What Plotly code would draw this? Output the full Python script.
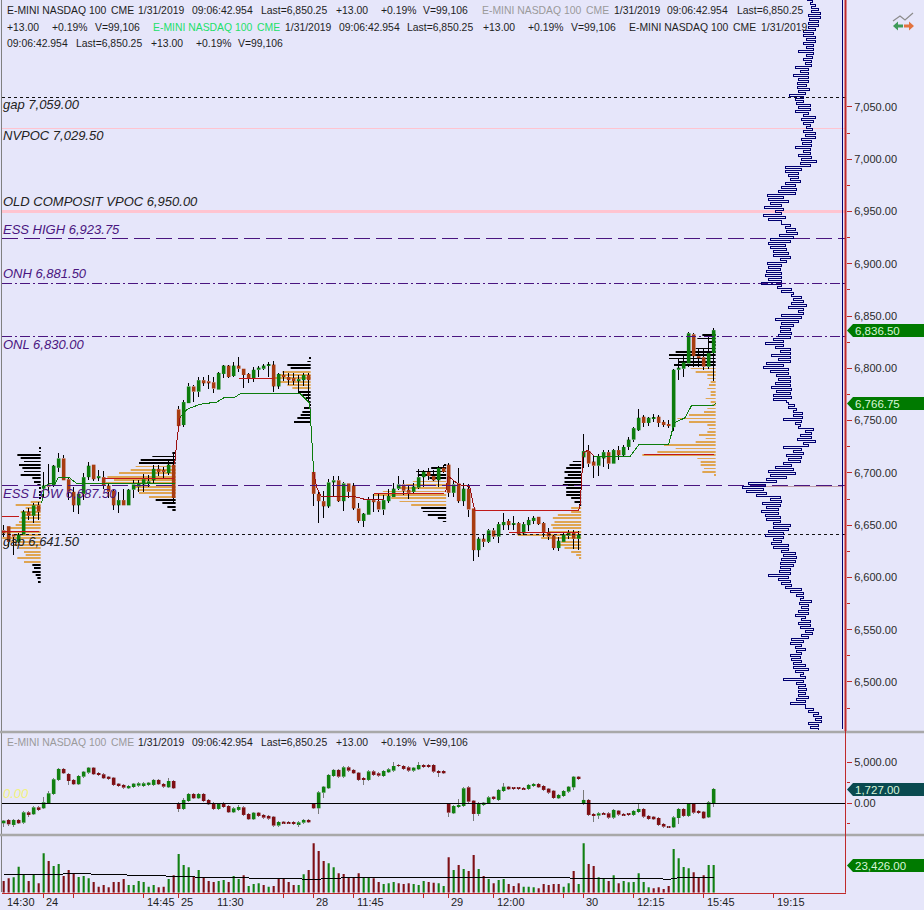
import plotly.graph_objects as go

W, H = 924, 910
BG = "#E6E6FA"
GREEN = "#0C7C0C"
RUST = "#A83C10"
MAROON = "#7E0F14"
OSC_GREEN = "#118011"
RED_AXIS = "#C02A2A"
PURPLE = "#4A1580"
PINK = "#FFC4D0"
ORANGE = "#DFA552"
NAVY = "#000070"

# ---------- price candles ----------
price_open = [6644,6648,6640,6633,6640,6662,6658,6668,6684,6688,
6687,6704,6713,6693,6681,6668,6679,6695,6707,6694,
6695,6687,6682,6668,6673,6668,6683,6686,6688,6689,
6692,6703,6702,6699,6707,6760,6745,6766,6782,6777,
6788,6787,6786,6779,6794,6802,6792,6802,6799,6794,
6790,6798,6799,6802,6803,6782,6793,6791,6790,6787,
6788,6793,6700,6679,6672,6667,6690,6692,6672,6689,
6687,6665,6653,6659,6673,6672,6664,6672,6676,6684,
6688,6683,6681,6685,6695,6700,6696,6692,6704,6707,
6680,6689,6672,6684,6665,6625,6636,6633,6644,6638,
6649,6653,6650,6651,6641,6649,6653,6657,6651,6642,
6639,6627,6633,6639,6642,6636,6714,6720,6710,6706,
6713,6719,6708,6721,6716,6724,6731,6740,6753,6747,
6751,6753,6748,6746,6743,6798,6799,6804,6832,6811,
6810,6801,6814]
price_close = [6641,6633,6638,6640,6662,6658,6668,6662,6687,6686,
6706,6713,6692,6681,6668,6679,6695,6706,6693,6696,
6687,6681,6668,6673,6668,6683,6688,6689,6693,6691,
6703,6700,6700,6707,6675,6744,6767,6782,6777,6788,
6785,6785,6780,6795,6802,6791,6802,6799,6793,6790,
6798,6800,6802,6803,6782,6794,6791,6788,6787,6789,
6793,6788,6679,6672,6667,6690,6692,6672,6689,6681,
6665,6653,6660,6673,6671,6664,6673,6677,6684,6688,
6682,6680,6686,6695,6700,6696,6692,6704,6700,6680,
6688,6672,6684,6664,6625,6636,6633,6644,6638,6650,
6652,6649,6651,6640,6650,6654,6656,6650,6642,6638,
6627,6634,6640,6642,6636,6640,6720,6708,6706,6715,
6719,6708,6721,6716,6724,6731,6742,6752,6747,6752,
6752,6747,6745,6744,6798,6800,6805,6833,6811,6809,
6801,6814,6836]
price_high = [6649,6648,6640,6641,6664,6665,6670,6671,6700,6708,
6707,6718,6716,6694,6686,6681,6699,6710,6707,6702,
6701,6689,6684,6681,6684,6684,6692,6692,6698,6697,
6707,6707,6705,6711,6718,6763,6769,6785,6783,6791,
6791,6793,6791,6796,6803,6803,6805,6810,6799,6795,
6801,6802,6804,6805,6806,6795,6797,6795,6795,6793,
6795,6795,6703,6683,6682,6693,6696,6696,6690,6689,
6689,6670,6661,6676,6679,6679,6678,6684,6689,6696,
6692,6687,6689,6703,6702,6704,6702,6706,6707,6709,
6692,6704,6689,6688,6665,6638,6640,6645,6646,6652,
6661,6655,6658,6652,6652,6657,6658,6657,6652,6646,
6640,6638,6641,6644,6644,6643,6736,6726,6715,6717,
6721,6721,6722,6725,6726,6734,6743,6760,6755,6753,
6756,6755,6750,6750,6799,6809,6811,6834,6833,6819,
6819,6831,6838]
price_low = [6638,6628,6620,6632,6640,6654,6651,6654,6676,6680,
6686,6700,6692,6673,6662,6660,6673,6692,6691,6691,
6684,6675,6664,6661,6668,6668,6675,6681,6681,6686,
6689,6696,6694,6697,6670,6738,6743,6766,6767,6772,
6782,6780,6776,6779,6790,6790,6791,6796,6781,6785,
6786,6791,6798,6791,6777,6780,6787,6783,6783,6775,
6782,6766,6667,6651,6656,6665,6676,6671,6663,6675,
6664,6651,6647,6659,6662,6662,6659,6670,6676,6683,
6678,6674,6679,6684,6686,6692,6691,6686,6699,6676,
6676,6670,6667,6657,6615,6618,6628,6632,6636,6632,
6644,6644,6644,6640,6640,6643,6650,6649,6638,6635,
6625,6624,6633,6636,6626,6625,6704,6705,6694,6696,
6705,6703,6708,6711,6715,6721,6729,6739,6743,6744,
6748,6743,6743,6742,6739,6788,6791,6801,6801,6801,
6798,6799,6787]

# ---------- oscillator candles ----------
osc_open = [-2440,-2030,-2640,-2030,-2360,-1100,-1340,-490,-610,0,
1140,2850,4190,3580,2850,2320,3250,3740,4350,3660,
3540,3250,3130,2400,2240,1830,1990,2150,2110,2240,
2240,2850,2360,1950,2720,0,-690,280,1140,610,
1140,410,0,-690,0,-330,-1100,-810,-490,-1300,
-1950,-1140,-1420,-1540,-1630,-2720,-2240,-2320,-2320,-2560,
-2360,-2030,-80,-610,1300,1830,3330,4070,3250,4390,
4070,3740,3050,2850,3900,3660,3330,3780,3980,4670,
4550,4390,3980,4150,4670,4670,4670,3940,3940,-80,
-1220,-410,-330,1950,330,-1300,-200,0,810,410,
1500,2030,1910,1870,1870,1750,2110,2360,2110,1790,
1540,610,890,1420,1950,3250,-80,410,-1300,-1500,
-1220,-1220,-1750,-890,-1300,-1300,-1420,-1060,-690,-1540,
-1630,-1790,-2520,-2850,-2930,-1790,-690,-1540,-80,-930,
-1020,-1710,0]
osc_close = [-2110,-2560,-2030,-2440,-1100,-1420,-490,-810,120,1220,
2930,4190,3660,2720,2320,3330,3860,4350,3540,3500,
3050,2970,2240,2110,1910,2110,2400,2440,2440,2520,
2850,2320,2030,2720,1830,-690,410,1140,610,1140,
280,-120,-690,-80,-450,-1100,-610,-450,-1420,-1950,
-1140,-1540,-1750,-1870,-2720,-2280,-2440,-2440,-2480,-2320,
-2030,-2320,-610,1340,2030,3460,4070,3250,4390,3980,
3660,2850,2850,3900,3460,3370,3940,4150,4550,4550,
4190,3980,4350,4670,4470,4470,3860,3740,3660,-1140,
-330,-200,1830,200,-1300,0,80,730,530,1630,
2030,1710,1790,1750,1710,2240,2360,1950,1630,1300,
650,1020,1500,2030,3250,3010,410,-1420,-1540,-1220,
-1340,-1750,-810,-1380,-1460,-1380,-930,-690,-1630,-1910,
-1950,-2640,-2850,-2930,-1710,-690,-1540,-80,-1140,-1140,
-1830,120,1750]
osc_long_highs = {8:810,9:1540,33:3050,36:690,47:-200,78:5000,83:5080,91:490,100:2450,116:1630,127:-100}
osc_long_lows = {0:-2850,1:-2760,2:-2850,5:-1630,13:2240,14:2200,15:2240,35:-1020,59:-2930,63:-1340,64:610,
                 72:2240,87:3170,89:-1630,94:-2120,95:-1500,114:1600,118:-2240,119:-1950,133:-3050,135:-2500,142:-400}

# ---------- volume ----------
volume = [9870,12130,12970,22000,14950,9870,15510,7900,33280,26790,
22560,24250,14100,19180,16360,13250,14100,12130,9020,5080,
6490,4510,9020,9020,11560,6490,6490,9870,9020,5080,
6490,4510,5080,11560,14660,32710,23410,21430,14100,19180,
12970,9870,9020,9870,10720,9020,14100,11560,14660,5640,
7330,7900,6490,5080,5640,11560,11560,9020,6490,6490,
15510,19180,41740,35250,26790,24820,21430,16360,15790,12970,
12970,16360,12970,12970,12130,9020,7330,7900,9020,7900,
7330,7900,7330,6490,9870,9020,8460,7900,5640,29890,
19180,23410,20020,18330,31870,20020,14100,11560,7900,10720,
11560,7330,5640,7900,5080,5080,4510,3670,7330,6490,
7330,7330,5080,7900,18330,7330,41740,24250,22560,12970,
11560,9870,14660,7900,9870,8740,9020,16360,9020,4510,
3670,4510,3100,5640,36940,29050,21710,20590,17200,12970,
14660,23410,23426]
volume_sides = ("RRGGGRGRGR" "GGRRRGGGRR" "RRRRRGGGGG" "GRRGRGGGRG" "RRRGGRGGRG"
                "GGRGRRRRRG" "GRRRRGGRRR" "RRGGRRGGGR" "RRGGGRRGGR" "GR" "GRRGRGRG"
                "GRRRGGGRRR" "RRGGRGGRRG" "GRGRGGGGGG" "RRRRGGGGRR" "RGG")
vol_avg_bars = [0,10,15,20,30,35,60,62,70,89,92,105,110,115,130,133,135,142]
vol_avg = [15510,15510,16360,15230,14660,13540,11560,11280,12970,12970,13540,13540,12970,12130,12130,11280,12690,12970]

# ---------- composite profile (left and right edge per 4 px price row) ----------
blue_top_price = 7152.3
blue_row_step = 1.913
blue_far = [108,98,93,93,103,100,103,103,118,118,108,118,108,133,108,
118,113,143,128,148,133,136,136,133,160,143,138,133,143,118,123,118,108,118,113,123,120,143,118,133,123,128,
173,173,163,158,173,183,193,226,223,218,236,203,238,223,183,173,168,190,218,223,218,208,208,188,226,223,228,233,223,243,
196,183,153,148,153,163,133,183,203,183,188,188,193,208,233,203,188,213,
193,228,238,218,198,193,203,213,198,208,208,163,163,148,148,178,143,133,113,128,135,118,178,148,168,163,178,203,223,218,228,
283,300,288,258,218,240,228,243,233,228,208,208,223,233,208,213,208,183,178,
183,188,188,190,223,193,183,173,158,138,128,130,123,133,143,123,133,128,113,123,153,158,143,138,158,153,148,148,143,128,178,138,133,133,133,138,158,113,103,88,83,103,98]
blue_near = [90,83,73,68,68,73,73,83,88,83,83,88,88,88,90,
93,93,103,103,103,103,108,100,113,118,118,98,98,103,81,88,98,90,83,81,93,93,98,98,93,80,98,
123,133,133,128,143,138,143,178,163,183,178,183,173,183,158,143,136,148,158,173,168,163,158,168,183,188,183,183,183,183,
153,148,123,118,108,118,118,123,133,148,158,153,158,178,178,158,158,158,
156,178,163,163,158,158,158,153,158,153,168,146,138,120,120,123,128,88,93,93,83,103,123,118,123,128,153,148,143,168,198,
233,238,228,188,183,188,193,193,188,188,158,163,178,178,183,163,163,143,138,
143,148,158,158,163,158,153,123,118,118,93,103,103,103,113,98,98,88,90,103,118,123,113,123,128,123,113,103,118,113,118,113,108,113,103,113,113,88,73,63,63,73,73]

# ---------- session volume profiles: (outside, value area, outside) row lengths ----------
PROFILE_STEP = 3.19
BAR_UNITS = 15
p1_end, p1_top = 7.4, 6722.7
p1_lengths = [5,5,70,60,50,65,55,50,60,25,20,10,5,5,5,3, 30,75,45,60,50,60,65,75,100,115,85,115,90,80,65,50,45,70,50, 25,20,25,15,10,8]
p1_split = (16, 35)
p2_end, p2_top = 34.4, 6717.9
p2_lengths = [10,70,105,110, 120,135,170,205,185,210,125,115,110,80, 60,40,25,10]
p2_split = (4, 14)
p3_end, p3_top = 61.4, 6809.0
p3_lengths = [5,10,70,60, 85,100,115,95,70,55, 35,25,15,8,5,20,25,30,40,50]
p3_split = (4, 10)
p4_end, p4_top = 88.5, 6706.8
p4_lengths = [5,45,90,85,50, 100,120,140,190,220,165,140,105, 75,70,55,25,10]
p4_split = (5, 13)
p5_end, p5_top = 115.5, 6709.9
p5_lengths = [25,35,45,50,40,50,50,55,45,45,45,30,20,5, 30,30,70,85,80,90,85,100,190,120,60,65,50,30,15,5]
p5_split = (14, 30)
p6_end, p6_top = 142.4, 6831.3
p6_lengths = [40,55,20,10,60,120,140,140,110,125, 75,60,25,25,15,20,25,15,15,30,15,10,25,35,80,115,80,25,20,25,50,30,60,155,120,175,220,55,45,45,35,40,5]
p6_split = (10, 43)

# ---------- developing lines and point-of-control levels ----------
dev_green_bars_a = [7.6,8.1,9.2,10.3,11,13,14.6,20,34.2]
dev_green_a = [6670,6686,6689,6689,6695,6695,6689,6689,6689]
dev_red_bars_a = [34.2,34.7,35.3]
dev_red_a = [6708,6732,6753]
dev_green_bars_b = [35.3,36,36.6,39.3,42.6,44,46,47.3,59.3,61.2,61.5,62]
dev_green_b = [6753,6755,6760,6765,6767,6771,6771,6775,6775,6766,6742,6700]
dev_red_bars_b = [62,62.6,63.6,70.5,72,76]
dev_red_b = [6700,6685,6676,6676,6674,6674]
dev_red_bars_c = [88.4,88.9,91,93.2,94.2,115,115.3,115.9,116.9,118.1]
dev_red_c = [6681,6696,6688,6686,6663,6663,6669,6718,6721,6715]
dev_green_bars_c = [118.1,125.3,127,133,134.1,136.3,137.6,142,142.5]
dev_green_c = [6715,6715,6726,6726,6747,6752,6764,6764,6766]
poc_start = [-0.3,-0.3,20,47,74,94,101,128]
poc_end = [3,7,34,54,88,115,115,142]
poc_price = [6657,6643,6694,6790,6679,6663,6642,6717]

# ---------- price levels ----------
level_names = ["gap 7,059.00","NVPOC 7,029.50","OLD COMPOSIT VPOC 6,950.00","ESS HIGH 6,923.75",
               "ONH 6,881.50","ONL 6,830.00","ESS LOW 6,687.50","gap 6,641.50"]
level_prices = [7059,7029.5,6950,6923.75,6881.5,6830,6687.5,6641.5]
level_colors = ["#111111",PINK,PINK,PURPLE,PURPLE,PURPLE,PURPLE,"#111111"]
level_widths = [1,1,3,1,1,1,1,1]
level_dashes = ["3px,3px","solid","solid","16px,6px","10px,3px,2px,3px","10px,3px,2px,3px","16px,6px","3px,3px"]
label_colors = ["#222222","#222222","#222222",PURPLE,PURPLE,PURPLE,PURPLE,"#222222"]
label_pixel_y = [104,135,201,229,273,344,494,541]

# ---------- axis labels ----------
price_ticks = [7050,7000,6950,6900,6850,6800,6750,6700,6650,6600,6550,6500]
price_minor = [7025,6975,6925,6875,6825,6775,6725,6675,6625,6575,6525,6475]
osc_ticks = [5000,0]
osc_minor = [2500,-2500]
bar_ticks = [8,14,28,35,56,62,70,84,89,98,112,116,126,140,154]
time_labels = ["14:30","24","14:45","25","11:30","28","11:45","29","12:00","30","12:15","15:45","19:15"]
time_pixel_x = [7,46,147,181,217,316,357,451,497,586,637,707,777]


def recal(p):
    """The readings above used a slightly coarse price scale; bring them onto the chart's own."""
    return 7152.3 - (7152.6 - p) * 1.0428 / 1.0455


price_open = [recal(v) for v in price_open]
price_close = [recal(v) for v in price_close]
price_high = [recal(v) for v in price_high]
price_low = [recal(v) for v in price_low]
dev_green_a = [recal(v) for v in dev_green_a]
dev_red_a = [recal(v) for v in dev_red_a]
dev_green_b = [recal(v) for v in dev_green_b]
dev_red_b = [recal(v) for v in dev_red_b]
dev_red_c = [recal(v) for v in dev_red_c]
dev_green_c = [recal(v) for v in dev_green_c]
poc_price = [recal(v) for v in poc_price]

def px(x): return x / W
def py(y): return 1 - y / H
def bar_of(x): return (x - 3.67) / 5

bars = list(range(len(price_open)))
assert len(bars) == 143 and all(len(a) == 143 for a in (price_close, price_high, price_low, osc_open, osc_close, volume))
assert len(volume_sides) == 143
assert len(blue_far) == 183 and len(blue_near) == 183

X_RANGE = [bar_of(2), bar_of(846)]
fig = go.Figure()

# session profiles, below candles
for end, top, lengths, split in [(p1_end,p1_top,p1_lengths,p1_split),(p2_end,p2_top,p2_lengths,p2_split),
                                 (p3_end,p3_top,p3_lengths,p3_split),(p4_end,p4_top,p4_lengths,p4_split),
                                 (p5_end,p5_top,p5_lengths,p5_split),(p6_end,p6_top,p6_lengths,p6_split)]:
    prices = [recal(top) - PROFILE_STEP * k for k in range(len(lengths))]
    spans = [v / BAR_UNITS for v in lengths]
    cols = [ORANGE if split[0] <= k < split[1] else "#000000" for k in range(len(lengths))]
    fig.add_trace(go.Bar(orientation="h", y=prices, x=spans, base=[end - s for s in spans], width=0.7,
                         marker=dict(color=cols, line=dict(width=0)), xaxis="x", yaxis="y", hoverinfo="skip"))

def wick_path(op, hi, lo, cl):
    xs, ys = [], []
    for i, (o, h, l, c) in enumerate(zip(op, hi, lo, cl)):
        t, b = max(o, c), min(o, c)
        if h > t:
            xs += [i, i, None]; ys += [h, t, None]
        if l < b:
            xs += [i, i, None]; ys += [b, l, None]
    return xs, ys

# price candles
fig.add_trace(go.Bar(x=bars, base=[min(o, c) for o, c in zip(price_open, price_close)],
                     y=[max(abs(o - c), 1) for o, c in zip(price_open, price_close)], width=0.72,
                     marker=dict(color=[GREEN if c >= o else RUST for o, c in zip(price_open, price_close)], line=dict(width=0)),
                     xaxis="x", yaxis="y"))
wx, wy = wick_path(price_open, price_high, price_low, price_close)
fig.add_trace(go.Scatter(x=wx, y=wy, mode="lines", line=dict(color="#000000", width=1), xaxis="x", yaxis="y"))

# composite point of control sits under the ESS LOW dashes
fig.add_trace(go.Scatter(x=[bar_of(742), bar_of(843)], y=[6686.5, 6686.5], mode="lines",
                         line=dict(color="#C2A0AC", width=1), xaxis="x", yaxis="y"))

# levels
for name, p, col, w, d in zip(level_names, level_prices, level_colors, level_widths, level_dashes):
    fig.add_trace(go.Scatter(x=X_RANGE, y=[p, p], mode="lines", line=dict(color=col, width=w, dash=d), xaxis="x", yaxis="y", name=name))

# developing lines
for bx, by, col in [(dev_green_bars_a, dev_green_a, GREEN), (dev_red_bars_a, dev_red_a, "#9A1010"),
                    (dev_green_bars_b, dev_green_b, GREEN), (dev_red_bars_b, dev_red_b, "#9A1010"),
                    (dev_red_bars_c, dev_red_c, "#9A1010"), (dev_green_bars_c, dev_green_c, GREEN)]:
    fig.add_trace(go.Scatter(x=bx, y=by, mode="lines", line=dict(color=col, width=1), xaxis="x", yaxis="y"))
pocx, pocy = [], []
for a, b, p in zip(poc_start, poc_end, poc_price):
    pocx += [a, b, None]; pocy += [p, p, None]
fig.add_trace(go.Scatter(x=pocx, y=pocy, mode="lines", line=dict(color="#C01818", width=1), xaxis="x", yaxis="y"))

# composite profile on its own reversed scale
bx, by = [], []
for k, (f, n) in enumerate(zip(blue_far, blue_near)):
    bx += [f, n]
    by += [blue_top_price - blue_row_step * 2 * k, blue_top_price - blue_row_step * (2 * k + 1)]
fig.add_trace(go.Scatter(x=bx, y=by, mode="lines", line=dict(color=NAVY, width=1, shape="hv"), xaxis="x4", yaxis="y"))

# oscillator
fig.add_trace(go.Bar(x=bars, base=[min(o, c) for o, c in zip(osc_open, osc_close)],
                     y=[max(abs(o - c), 60) for o, c in zip(osc_open, osc_close)], width=0.72,
                     marker=dict(color=[OSC_GREEN if c >= o else MAROON for o, c in zip(osc_open, osc_close)], line=dict(width=0)),
                     xaxis="x2", yaxis="y2"))
osc_high = [osc_long_highs.get(i, max(o, c) + 120) for i, (o, c) in enumerate(zip(osc_open, osc_close))]
osc_low = [osc_long_lows.get(i, min(o, c) - 120) for i, (o, c) in enumerate(zip(osc_open, osc_close))]
wx, wy = wick_path(osc_open, osc_high, osc_low, osc_close)
fig.add_trace(go.Scatter(x=wx, y=wy, mode="lines", line=dict(color="#7A7A7A", width=1), xaxis="x2", yaxis="y2"))
fig.add_trace(go.Scatter(x=X_RANGE, y=[0, 0], mode="lines", line=dict(color="#000000", width=1), xaxis="x2", yaxis="y2"))

# volume
fig.add_trace(go.Bar(x=bars, y=volume, width=0.42,
                     marker=dict(color=[OSC_GREEN if s == "G" else MAROON for s in volume_sides], line=dict(width=0)),
                     xaxis="x3", yaxis="y3"))
fig.add_trace(go.Scatter(x=vol_avg_bars, y=vol_avg, mode="lines", line=dict(color="#000000", width=1), xaxis="x3", yaxis="y3"))

X_DOMAIN = [px(2), px(846)]
axis_font = dict(family="Liberation Sans", size=11, color="#2A2A2A")
def yaxis(domain, rng, ticks, fmt, minor_vals):
    return dict(domain=domain, range=rng, anchor="x", side="right", tickmode="array", tickvals=ticks,
                ticktext=[format(t, ",.2f") for t in ticks], ticks="outside", ticklen=5, tickcolor=RED_AXIS,
                tickfont=axis_font, showgrid=False, zeroline=False, showline=False,
                minor=dict(tickmode="array", tickvals=minor_vals, ticks="outside", ticklen=3, tickcolor=RED_AXIS, showgrid=False))

fig.update_layout(
    width=W, height=H, margin=dict(l=0, r=0, t=0, b=0), paper_bgcolor=BG, plot_bgcolor=BG,
    showlegend=False, barmode="overlay", hovermode=False,
    xaxis=dict(domain=X_DOMAIN, range=X_RANGE, visible=False, anchor="y"),
    xaxis2=dict(domain=X_DOMAIN, range=X_RANGE, visible=False, anchor="y2"),
    xaxis3=dict(domain=X_DOMAIN, range=X_RANGE, anchor="y3", showgrid=False, zeroline=False, showline=True,
                linecolor=RED_AXIS, linewidth=1, tickmode="array", tickvals=bar_ticks, ticks="outside", ticklen=4,
                tickcolor=RED_AXIS, showticklabels=False),
    xaxis4=dict(range=[(842.7 - 2) * 3, (842.7 - 846) * 3], overlaying="x", anchor="y", visible=False),
    yaxis=yaxis([py(731), py(0)], [6453.1, 7152.3], price_ticks, ",.2f", price_minor),
    yaxis2=dict(yaxis([py(834), py(733)], [-3744, 8573], osc_ticks, ",.2f", osc_minor), anchor="x2"),
    yaxis3=dict(domain=[py(892.7), py(836)], range=[0, 47970], anchor="x3", side="right", showticklabels=False,
                ticks="", showgrid=False, zeroline=False),
)

def line_shape(x0, y0, x1, y1, color, width):
    return dict(type="line", xref="paper", yref="paper", x0=px(x0), y0=py(y0), x1=px(x1), y1=py(y1),
                line=dict(color=color, width=width), layer="above")

def tag_path(top, bottom):
    mid = (top + bottom) / 2
    pts = [(847, mid), (853, top), (924, top), (924, bottom), (853, bottom)]
    return "M" + " L".join(f"{px(a):.5f},{py(b):.5f}" for a, b in pts) + " Z"

shapes = [
    line_shape(1.5, 0, 1.5, 892, "#808080", 1),
    line_shape(0, 732, 924, 732, "#A8A8A8", 2.5),
    line_shape(0, 835, 924, 835, "#A8A8A8", 2.5),
    line_shape(842.5, 0, 842.5, 729, NAVY, 1),
    line_shape(845.5, 0, 845.5, 731, RED_AXIS, 2),
    line_shape(845.5, 731, 845.5, 892.7, RED_AXIS, 1),
]
for top, bottom, col in [(324, 337, "#007A00"), (397, 410, "#007A00"), (783, 796, "#0A4A50"), (859, 872, "#007A00")]:
    shapes.append(dict(type="path", xref="paper", yref="paper", path=tag_path(top, bottom),
                       fillcolor=col, line=dict(width=0), layer="above"))

# small indicator icon
def poly(points, color, width):
    return dict(type="path", xref="paper", yref="paper",
                path="M" + " L".join(f"{px(a):.5f},{py(b):.5f}" for a, b in points),
                line=dict(color=color, width=width), layer="above")
shapes.append(poly([(893, 21), (900, 16), (905, 20), (913, 13)], "#8C8C8C", 1.2))
shapes.append(dict(type="path", xref="paper", yref="paper", fillcolor="#3F9A5A", line=dict(width=0),
                   path="M" + " L".join(f"{px(a):.5f},{py(b):.5f}" for a, b in [(893, 26), (898, 21.5), (898, 24.5), (903, 24.5), (903, 27.5), (898, 27.5), (898, 30.5)]) + " Z"))
shapes.append(dict(type="path", xref="paper", yref="paper", fillcolor="#E2733F", line=dict(width=0),
                   path="M" + " L".join(f"{px(a):.5f},{py(b):.5f}" for a, b in [(914, 26), (909, 21.5), (909, 24.5), (904, 24.5), (904, 27.5), (909, 27.5), (909, 30.5)]) + " Z"))
fig.update_layout(shapes=shapes)

def label(x, y, text, color="#1E1E1E", size=11, anchor="left", italic=False):
    fig.add_annotation(xref="paper", yref="paper", x=px(x), y=py(y), text=f"<i>{text}</i>" if italic else text,
                       showarrow=False, xanchor=anchor, yanchor="middle", align=anchor, borderpad=0, borderwidth=0,
                       font=dict(family="Liberation Sans", size=size, color=color))

GRAY = "#9A9A9A"
LIME = "#22E06A"
header_rows = [
    (11, [(7,"E-MINI NASDAQ 100",None),(111,"CME",None),(138,"1/31/2019",None),(192,"09:06:42.954",None),(261,"Last=6,850.25",None),
          (336,"+13.00",None),(381,"+0.19%",None),(423,"V=99,106",None),(482,"E-MINI NASDAQ 100",GRAY),(586,"CME",GRAY),
          (614,"1/31/2019",None),(667,"09:06:42.954",None),(737,"Last=6,850.25",None)]),
    (27, [(7,"+13.00",None),(52,"+0.19%",None),(95,"V=99,106",None),(153,"E-MINI NASDAQ 100",LIME),(257,"CME",LIME),
          (285,"1/31/2019",None),(339,"09:06:42.954",None),(407,"Last=6,850.25",None),(483,"+13.00",None),(528,"+0.19%",None),
          (571,"V=99,106",None),(629,"E-MINI NASDAQ 100",None),(733,"CME",None),(761,"1/31/2019",None)]),
    (43, [(7,"09:06:42.954",None),(76,"Last=6,850.25",None),(151,"+13.00",None),(196,"+0.19%",None),(238,"V=99,106",None)]),
    (742, [(7,"E-MINI NASDAQ 100",GRAY),(111,"CME",GRAY),(138,"1/31/2019",None),(192,"09:06:42.954",None),(261,"Last=6,850.25",None),
           (336,"+13.00",None),(381,"+0.19%",None),(423,"V=99,106",None)]),
]
for y, items in header_rows:
    for x, text, col in items:
        label(x, y, text, col or "#1E1E1E", size=10.4)

for name, col, y in zip(level_names, label_colors, label_pixel_y):
    label(3, y, name, col, size=13, italic=True)
label(3, 793, "0.00", "#F2F27A", size=13, italic=True)

for t, x in zip(time_labels, time_pixel_x):
    label(x, 902, t)

for text, y in [("6,836.50", 330.5), ("6,766.75", 403.5), ("1,727.00", 789.5), ("23,426.00", 865.5)]:
    label(855, y, text, "#D8F6D8", size=11.5)

fig.write_html("out.html", config=dict(displayModeBar=False),
               post_script="document.body.style.margin='0';document.body.style.overflow='hidden';"
                           "document.querySelectorAll('.scatterlayer .js-line').forEach(function(p){p.style.shapeRendering='crispEdges';});"
                           "document.querySelectorAll('.shapelayer path').forEach(function(p){if(p.style.fill==='none'||!p.style.fill){p.style.shapeRendering='crispEdges';}});")
